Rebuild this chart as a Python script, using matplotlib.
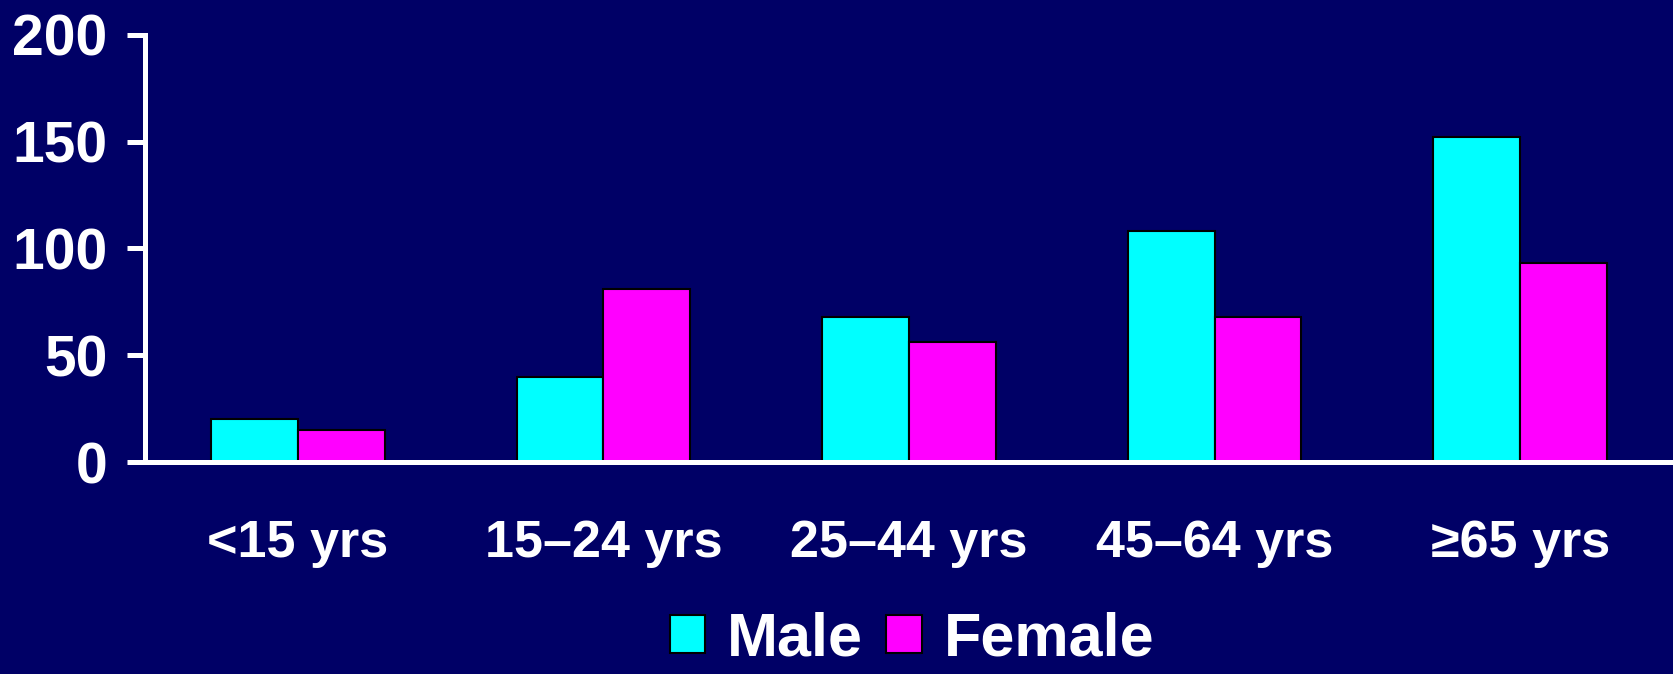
import numpy as np
import matplotlib
matplotlib.use("Agg")
import matplotlib.pyplot as plt

# age groups and rates
groups = ["<15 yrs", "15\u201324 yrs", "25\u201344 yrs", "45\u201364 yrs", "\u226565 yrs"]
male = [20, 40, 68, 108, 152]
female = [15, 81, 56, 68, 93]
yticks = [0, 50, 100, 150, 200]

bg = "#000066"
plt.rcParams['font.family'] = ['Liberation Sans', 'DejaVu Sans']
plt.rcParams['font.weight'] = 'bold'

fig = plt.figure(figsize=(16.73, 6.74), dpi=100, facecolor=bg)
ax = fig.add_axes([145/1673, 1 - 462/674, 1 - 145/1673, (462 - 35)/674])
ax.set_facecolor(bg)

x = np.arange(len(groups))
w = 0.284
ax.bar(x - w/2, male, w, color="#00FFFF", edgecolor="black", linewidth=1.5, label="Male", zorder=2)
ax.bar(x + w/2, female, w, color="#FF00FF", edgecolor="black", linewidth=1.5, label="Female", zorder=2)

ax.set_xlim(-0.5, len(groups) - 0.5)
ax.set_ylim(0, 200)
ax.set_yticks(yticks)
ax.set_xticks(x)
ax.set_xticklabels(groups)

for s in ["top", "right"]:
    ax.spines[s].set_visible(False)
for s in ["left", "bottom"]:
    ax.spines[s].set_color("white")
    ax.spines[s].set_linewidth(3.6)
    ax.spines[s].set_zorder(3)

ax.tick_params(axis="y", colors="white", length=13, width=3.6, pad=14, labelsize=41)
ax.tick_params(axis="x", colors="white", length=0, pad=41, labelsize=37.5)
for lab in ax.get_xticklabels() + ax.get_yticklabels():
    lab.set_fontweight("bold")

# reference clips the legend at the bottom edge; keep it just inside
leg = fig.legend(loc="center", bbox_to_anchor=(912/1673, 1 - 640/674), ncol=2,
                 frameon=False, fontsize=44, handlelength=0.58, handleheight=0.58,
                 handletextpad=0.36, columnspacing=0.38, borderpad=0)
for t in leg.get_texts():
    t.set_color("white")
    t.set_fontweight("bold")

fig.savefig("out.png", dpi=100, facecolor=bg)
